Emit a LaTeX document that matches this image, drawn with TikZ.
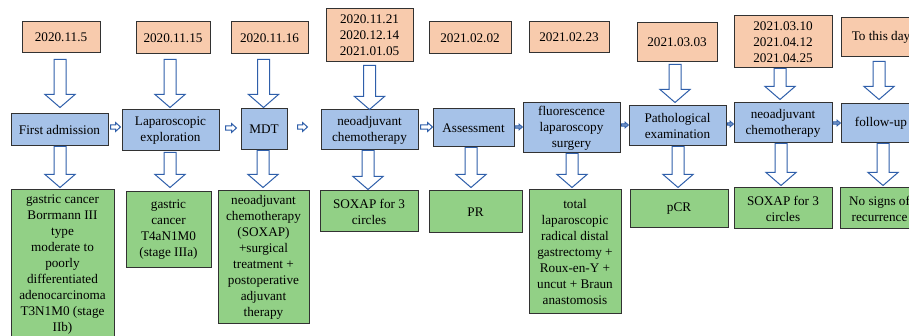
\documentclass[tikz,border=0pt]{standalone}
\usepackage{fontspec}
\setmainfont{Liberation Serif}
\newfontfamily\tnr{Liberation Serif}
\usetikzlibrary{calc}
\definecolor{datefill}{RGB}{248,203,173}
\definecolor{midfill}{RGB}{166,194,232}
\definecolor{resfill}{RGB}{146,208,134}
\definecolor{boxline}{RGB}{50,50,50}
\definecolor{arrline}{RGB}{47,95,170}
\tikzset{
  base/.style={draw=boxline, line width=1pt, inner sep=0pt, align=center,
    font=\tnr\fontsize{13.2pt}{16pt}\selectfont, text=black},
  datebox/.style={base, fill=datefill},
  midbox/.style={base, fill=midfill},
  resbox/.style={base, fill=resfill},
  blk/.style={draw=arrline, line width=1pt, fill=white, line join=miter},
  blkfill/.style={draw=arrline, line width=0.7pt, fill=arrline!70, line join=miter},
}
\newcommand\vblk[2]{%
  \draw[blk] let \p1=(#1), \p2=(#2) in
    ({\x1-6pt},\y1) -- ({\x1+6pt},\y1) -- ({\x1+6pt},{\y2+13pt}) --
    ({\x1+15pt},{\y2+13pt}) -- (\x1,\y2) -- ({\x1-15pt},{\y2+13pt}) --
    ({\x1-6pt},{\y2+13pt}) -- cycle;}
\newcommand\hblk[3][blk]{%
  \draw[#1] let \p1=(#2), \p2=(#3) in
    (\x1,{\y1+2.2pt}) -- ({\x2-5pt},{\y1+2.2pt}) -- ({\x2-5pt},{\y1+4.5pt}) --
    (\x2,\y1) -- ({\x2-5pt},{\y1-4.5pt}) -- ({\x2-5pt},{\y1-2.2pt}) --
    (\x1,{\y1-2.2pt}) -- cycle;}
\newcommand\hsml[2]{%
  \draw[blkfill] let \p1=(#1), \p2=(#2) in
    (\x1,{\y1+1.2pt}) -- ({\x2-3.5pt},{\y1+1.2pt}) -- ({\x2-3.5pt},{\y1+3pt}) --
    (\x2,\y1) -- ({\x2-3.5pt},{\y1-3pt}) -- ({\x2-3.5pt},{\y1-1.2pt}) --
    (\x1,{\y1-1.2pt}) -- cycle;}
\begin{document}
\begin{tikzpicture}[x=1pt,y=-1pt]
\useasboundingbox (0,0) rectangle (909,336);
\clip (0,0) rectangle (909,336);
\fill[white] (0,0) rectangle (909,336);
% date boxes
\node[datebox, minimum width=78pt, minimum height=31pt] (d1) at (61,37.5) {2020.11.5};
\node[datebox, minimum width=74pt, minimum height=32pt] (d2) at (173,38) {2020.11.15};
\node[datebox, minimum width=77pt, minimum height=32pt] (d3) at (269.5,38) {2020.11.16};
\node[datebox, minimum width=87pt, minimum height=53pt] (d4) at (369.5,35.5) {2020.11.21\\2020.12.14\\2021.01.05};
\node[datebox, minimum width=82pt, minimum height=32pt] (d5) at (470,38) {2021.02.02};
\node[datebox, minimum width=80pt, minimum height=31pt] (d6) at (569,37.5) {2021.02.23};
\node[datebox, minimum width=80pt, minimum height=39pt] (d7) at (677,42.5) {2021.03.03};
\node[datebox, minimum width=98pt, minimum height=52pt] (d8) at (783,42) {2021.03.10\\2021.04.12\\2021.04.25};
\node[datebox, minimum width=80pt, minimum height=39pt] (d9) at (881,37.5) {To this day};
% middle boxes
\node[midbox, minimum width=97pt, minimum height=32pt] (m1) at (59.5,130) {First admission};
\node[midbox, minimum width=97pt, minimum height=41pt] (m2) at (170.5,130.5) {Laparoscopic\\exploration};
\node[midbox, minimum width=46pt, minimum height=41pt] (m3) at (264,129.5) {MDT};
\node[midbox, minimum width=97pt, minimum height=40pt] (m4) at (369.5,130) {neoadjuvant\\chemotherapy};
\node[midbox, minimum width=81pt, minimum height=38pt] (m5) at (473.5,128) {Assessment};
\node[midbox, minimum width=97pt, minimum height=50pt] (m6) at (571.5,128) {fluorescence\\laparoscopy\\surgery};
\node[midbox, minimum width=97pt, minimum height=40pt] (m7) at (677.5,126) {Pathological\\examination};
\node[midbox, minimum width=98pt, minimum height=40pt] (m8) at (783,123) {neoadjuvant\\chemotherapy};
\node[midbox, minimum width=80pt, minimum height=39pt] (m9) at (881,123.5) {follow-up};
% result boxes
\node[resbox, minimum width=103pt, minimum height=150pt] (b1) at (62.5,265) {gastric cancer\\Borrmann III\\type\\moderate to\\poorly\\differentiated\\adenocarcinoma\\T3N1M0 (stage\\IIb)};
\node[resbox, minimum width=85pt, minimum height=76pt] (b2) at (168.5,230) {gastric\\cancer\\T4aN1M0\\(stage IIIa)};
\node[resbox, minimum width=91pt, minimum height=132pt] (b3) at (263.5,257) {neoadjuvant\\chemotherapy\\(SOXAP)\\+surgical\\treatment +\\postoperative\\adjuvant\\therapy};
\node[resbox, minimum width=98pt, minimum height=41pt] (b4) at (369,211.5) {SOXAP for 3\\circles};
\node[resbox, minimum width=93pt, minimum height=42pt] (b5) at (475.5,212) {PR};
\node[resbox, minimum width=92pt, minimum height=123pt] (b6) at (575,251.5) {total\\laparoscopic\\radical distal\\gastrectomy +\\Roux-en-Y +\\uncut + Braun\\anastomosis};
\node[resbox, minimum width=98pt, minimum height=38pt] (b7) at (679,209) {pCR};
\node[resbox, minimum width=98pt, minimum height=41pt] (b8) at (783,208.5) {SOXAP for 3\\circles};
\node[resbox, minimum width=79pt, minimum height=41pt] (b9) at (879.5,208.5) {No signs of\\recurrence};
% date -> stage arrows
\vblk{$(d1.south)+(-1,6)$}{$(m1.north)+(0,-6)$}
\vblk{$(d2.south)+(-3,5)$}{$(m2.north)+(0,-2)$}
\vblk{$(d3.south)+(-6,5)$}{$(m3.north)+(0,-1)$}
\vblk{$(d4.south)+(0,3)$}{$(m4.north)+(0,0)$}
\vblk{$(d7.south)+(-2,2)$}{$(m7.north)+(0,-3)$}
\vblk{$(d8.south)+(-3,0)$}{$(m8.north)+(0,-3)$}
\vblk{$(d9.south)+(-2,4)$}{$(m9.north)+(0,-4)$}
% stage -> result arrows
\vblk{$(m1.south)+(0.5,0)$}{$(b1.north)+(0,-2)$}
\vblk{$(m2.south)+(-0.5,1)$}{$(b2.north)+(0,-4)$}
\vblk{$(m3.south)+(-1,0)$}{$(b3.north)+(0,-3)$}
\vblk{$(m4.south)+(-1.5,0)$}{$(b4.north)+(0,-1)$}
\vblk{$(m5.south)+(-2.5,0)$}{$(b5.north)+(0,-3)$}
\vblk{$(m6.south)+(0.5,0)$}{$(b6.north)+(0,-2)$}
\vblk{$(m7.south)+(0.5,0)$}{$(b7.north)+(0,-2)$}
\vblk{$(m8.south)+(-2,0)$}{$(b8.north)+(0,-2)$}
\vblk{$(m9.south)+(2,0)$}{$(b9.north)+(0,-2)$}
% horizontal arrows
\hblk{$(m1.east)+(2,-3)$}{$(m2.west)+(-1,0)$}
\hblk{$(m2.east)+(6,-2.5)$}{$(m3.west)+(-4,0)$}
\hblk{$(m3.east)+(10,-2.5)$}{$(m4.west)+(-13,0)$}
\hblk{$(m4.east)+(2,-3)$}{$(m5.west)+(0,0)$}
\hsml{$(m5.east)+(0.5,-1)$}{$(m6.west)+(0,0)$}
\hsml{$(m6.east)+(1,-3)$}{$(m7.west)+(0,0)$}
\hsml{$(m7.east)+(1,-2)$}{$(m8.west)+(0,0)$}
\hsml{$(m8.east)+(0.5,0)$}{$(m9.west)+(0,0)$}
\end{tikzpicture}
\end{document}
